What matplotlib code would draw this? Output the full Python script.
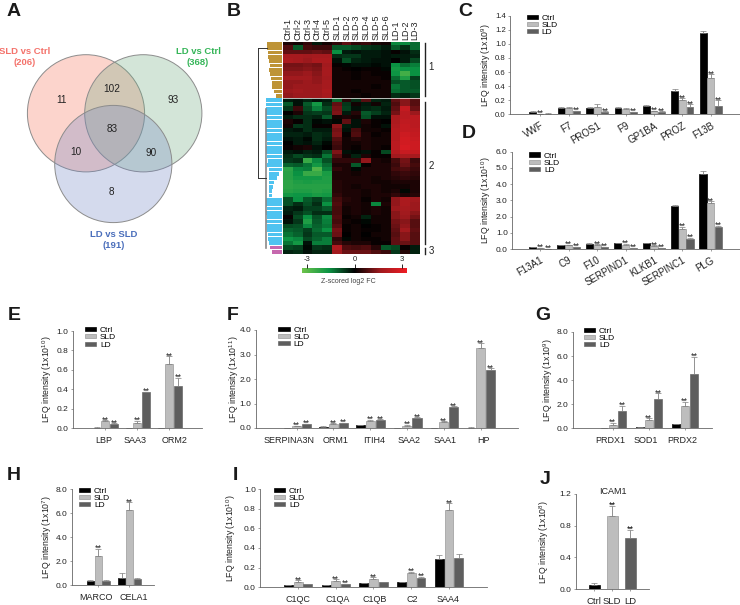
import numpy as np
from matplotlib import pyplot as plt
from matplotlib.colors import LinearSegmentedColormap, Normalize
from matplotlib.cm import ScalarMappable
from matplotlib.patches import Circle
from matplotlib.transforms import ScaledTranslation

plt.rcParams['font.family'] = ['Liberation Sans', 'DejaVu Sans']
plt.rcParams['mathtext.default'] = 'regular'
plt.rcParams['axes.linewidth'] = 0.6

W, H = 740, 605
fig = plt.figure(figsize=(W / 100, H / 100), dpi=100)

# venn
venn_names = ['SLD vs Ctrl\n(206)', 'LD vs Ctrl\n(368)', 'LD vs SLD\n(191)']
venn_counts = ['11', '102', '93', '83', '10', '90', '8']

# heatmap
heat_cols = ['Ctrl-1', 'Ctrl-2', 'Ctrl-3', 'Ctrl-4', 'Ctrl-5', 'SLD-1', 'SLD-2', 'SLD-3',
             'SLD-4', 'SLD-5', 'SLD-6', 'LD-1', 'LD-2', 'LD-3']
heat = [
    [.3, .2, .5, -.3, .2, .5, 1.0, .5, .6, .3, .2, -1.5, -1.5, -1.2],
    [.8, -1.0, .7, .6, .6, -1.0, -1.0, -.8, -.6, -.5, -.3, -1.0, -.5, -1.2],
    [1.0, 1.0, 1.0, 1.1, 1.0, -1.6, -.3, -.2, -.3, -.3, -.2, .1, -.2, -.5],
    [1.8, 1.8, 1.7, 1.8, 1.8, -.5, -.6, -.6, -.3, -.3, -.2, -.3, -.3, -.4],
    [1.9, 1.8, 1.6, 1.9, 1.9, -.2, -.9, -.4, -.3, -.2, -.2, 0, -.3, -.8],
    [1.2, 1.2, 1.3, 1.2, 1.7, .1, -.1, -.2, -.2, -.1, -.2, -1.6, -1.2, -1.4],
    [1.3, 1.3, 1.4, 1.3, 1.8, .2, .1, 0, .1, .1, -.1, -1.8, -1.6, -1.6],
    [1.5, 1.5, 1.6, 1.4, 1.8, .2, .2, .1, .2, .1, .1, -1.7, -2.6, -1.6],
    [1.7, 1.7, 1.7, 1.5, 1.7, .2, .2, .1, .2, .2, .1, -1.2, -2.0, -.7],
    [1.5, 1.5, 1.6, 1.5, 1.8, .2, .2, .2, .2, .2, .2, -.9, -1.0, -.9],
    [1.5, 1.6, 1.6, 1.6, 1.8, .2, .2, .2, .2, .1, .2, -1.3, -1.0, -.9],
    [1.6, 1.7, 1.6, 1.6, 1.9, .2, .2, .1, .2, .2, .2, -1.2, -1.0, -1.0],
    [1.5, 1.6, 1.6, 1.6, 1.8, .2, .2, .2, .1, .2, .2, -.5, -.4, -.6],
    [-.3, -.2, -.4, -.2, -.3, -1.2, .4, -.5, .9, -.4, -.3, 1.0, 1.4, .9],
    [-1.0, -.2, -1.0, -1.8, -.5, 1.0, -.6, .2, -.3, .2, -.4, .8, 1.4, .9],
    [-.6, .6, -.8, -1.4, -.8, 1.2, -.7, -.2, -.4, -.5, -.3, 1.0, 2.4, 1.1],
    [0, .3, -.6, -.7, -.6, 1.3, -.3, .4, -1.0, -.7, -.4, 1.2, 2.2, 1.6],
    [-.3, -.5, -.5, -.4, -1.0, .2, .3, .2, -.9, -.2, -.2, 1.9, 2.2, 2.2],
    [.3, .1, -.5, -.1, -.2, -.1, 1.0, -.2, .3, .1, 0, 1.9, 2.3, 2.2],
    [.2, -.6, -.5, .1, .1, 1.4, -.3, -.2, .2, .1, -.2, 2.0, 2.4, 2.2],
    [-.3, -.2, -.5, -.3, -.3, 1.2, -.2, .7, .2, .2, .1, 2.1, 2.4, 2.3],
    [-.4, -.4, -.3, -.5, -.4, 1.3, .1, .8, .3, .1, .2, 2.1, 2.6, 2.4],
    [-.2, -.3, -.1, -.5, -.3, .9, .2, .4, .3, .2, .2, 2.1, 2.7, 2.5],
    [0, -.3, -.2, -.4, -.1, .7, .2, .2, .3, .2, .2, 2.2, 2.7, 2.6],
    [.1, .2, .3, -.2, 0, .6, .2, .1, .3, .2, .1, 2.2, 2.8, 2.6],
    [-.3, -.2, -.4, -.3, -.8, 1.3, -.2, -.1, -.2, .1, -.8, 2.1, 2.5, 2.4],
    [-.5, -.8, -.6, -.5, -1.3, .9, .2, -.4, .3, .1, .1, 1.7, 1.9, 1.8],
    [-.6, -.5, -2.4, -1.5, -.9, .5, .5, .5, 1.5, .3, .2, .7, 1.2, .6],
    [-1.1, -1.0, -1.3, -1.8, -1.2, .3, .3, -1.0, .1, .3, .3, .6, 1.1, .7],
    [-2.2, -1.5, -1.4, -2.8, -1.4, .5, .3, -.1, .3, .3, .3, .7, .8, .6],
    [-2.1, -1.6, -2.4, -2.4, -1.9, .3, .3, .2, .3, .3, .3, .5, .6, .5],
    [-2.1, -1.8, -1.8, -1.8, -2.0, .3, .3, .3, .3, .2, .3, .4, .5, .4],
    [-2.2, -2.0, -1.9, -2.0, -2.0, .4, .3, .3, .3, .2, .2, .3, .3, .3],
    [-2.2, -2.1, -2.1, -2.1, -2.1, .4, .3, .2, .3, .3, .2, .2, .2, .3],
    [-2.1, -2.0, -2.0, -2.1, -2.0, .4, .3, .3, .2, .3, .2, .3, -.1, .3],
    [-1.8, -1.7, -1.7, -1.9, -1.8, .5, .3, .3, .2, .3, .3, .5, .3, .4],
    [-.9, -1.6, -1.0, -.7, -1.2, .7, .4, .3, .1, .3, .2, 1.5, 1.9, 1.7],
    [-.9, -.5, -.9, -.5, -1.6, .8, .3, .3, .2, -1.5, .3, 1.5, 1.9, 1.6],
    [-.4, -.3, -.7, -.7, -1.0, .7, .2, .3, .2, .3, .2, 1.6, 1.8, 1.6],
    [-.3, -.6, -.9, -.5, -.5, .7, .2, .3, .2, .3, .2, 1.4, 1.7, 1.4],
    [.1, -.8, -1.6, -.9, -1.5, .8, .1, .2, -.4, .2, .2, 1.4, 1.6, 1.2],
    [-.2, -.6, -2.0, -1.0, -1.4, .7, .2, .1, -.1, .2, .2, 1.2, 1.4, .9],
    [-.8, -.9, -1.5, -1.1, -1.3, .9, .1, .2, 0, .1, .2, 1.1, 1.5, .9],
    [-1.1, -1.0, -.7, -1.2, -1.6, 1.2, .1, .2, .1, .1, .2, 1.0, 1.7, 1.0],
    [-1.3, -1.1, -.6, -1.0, -1.0, 1.1, 0, .2, 0, .2, .2, .9, 1.4, .9],
    [-1.7, -1.5, -.8, -1.1, -1.4, .5, -.1, .2, .1, .1, .2, 1.0, 1.4, .9],
    [-1.3, -1.8, -.2, -1.4, -1.4, .7, .4, .3, .3, .1, .1, 1.0, 1.1, .9],
    [-.8, -.7, -.1, -.6, -.5, 2.0, .8, .7, .8, .4, -1.0, -.8, .1, -.3],
    [-.4, -.5, -.2, -.4, -.4, 1.7, 1.1, 1.1, 1.1, .8, .6, -.6, .4, -.4],
]
# dendrogram branch heights per heatmap row
dend_height = [.6, .6, .56, .54, .52, .48, .5, .46, .44, .4, .38, .32, .22,
               .63, .62, .64, .62, .63, .64, .62, .61, .63, .62, .6, .63, .62, .6,
               .56, .58, .52, .52, .52, .5, .5, .5, .52, .62, .63, .6, .62, .6, .61, .58, .6, .56, .55, .5,
               .48, .4]
dend_gap = [0] * 30 + [.1, .2, .3, .35, .38, .4] + [0] * 13
dend_colors = ['#BE9437'] * 13 + ['#4FC3F0'] * 34 + ['#C668AE'] * 2

# bar panels
c_genes = ['VWF', 'F7', 'PROS1', 'F9', 'GP1BA', 'PROZ', 'F13B']
c_ctrl = [.03, .09, .09, .09, .12, .33, 1.15]
c_sld = [.003, .09, .10, .08, .04, .20, .51]
c_ld = [.01, .04, .03, .03, .03, .10, .12]
c_err = [[.02, .015, .015, .015, .015, .025, .03], [.002, .01, .04, .01, .01, .025, .06], [.005, .01, .01, .005, .01, .04, .08]]
c_star = [[0, 0, 0, 0, 0, 0, 0], [1, 0, 0, 0, 1, 1, 1], [0, 1, 1, 1, 1, 1, 1]]

d_genes = ['F13A1', 'C9', 'F10', 'SERPIND1', 'KLKB1', 'SERPINC1', 'PLG']
d_ctrl = [.12, .22, .33, .36, .36, 2.63, 4.65]
d_sld = [.04, .24, .24, .27, .17, 1.25, 2.83]
d_ld = [.01, .12, .12, .07, .07, .6, 1.33]
d_err = [[.01, .02, .02, .02, .02, .06, .13], [.02, .03, .04, .04, .06, .12, .12], [.005, .02, .03, .02, .01, .08, .1]]
d_star = [[0] * 7, [1] * 7, [1] * 7]

e_genes = ['LBP', 'SAA3', 'ORM2']
e_ctrl = [.008, .003, .003]
e_sld = [.075, .055, .66]
e_ld = [.045, .37, .435]
e_err = [[.001, .001, .001], [.008, .025, .08], [.005, .005, .085]]
e_star = [[0] * 3, [1] * 3, [1] * 3]

f_genes = ['SERPINA3N', 'ORM1', 'ITIH4', 'SAA2', 'SAA1', 'HP']
f_ctrl = [.01, .06, .13, .005, .005, .02]
f_sld = [.08, .18, .30, .10, .24, 3.25]
f_ld = [.16, .20, .32, .41, .86, 2.36]
f_err = [[.002, .005, .005, .002, .002, .005], [.02, .02, .03, .03, .03, .2], [.02, .02, .04, .03, .03, .08]]
f_star = [[0] * 6, [1] * 6, [1] * 6]

g_genes = ['PRDX1', 'SOD1', 'PRDX2']
g_ctrl = [.04, .08, .37]
g_sld = [.25, .65, 1.85]
g_ld = [1.45, 2.47, 4.47]
g_err = [[.01, .01, .02], [.2, .2, .35], [.4, .45, 1.45]]
g_star = [[0] * 3, [1] * 3, [1] * 3]

h_genes = ['MARCO', 'CELA1']
h_ctrl = [.3, .6]
h_sld = [2.45, 6.25]
h_ld = [.3, .5]
h_err = [[.1, .4], [.6, .65], [.1, .1]]
h_star = [[0, 0], [1, 1], [0, 0]]

i_genes = ['C1QC', 'C1QA', 'C1QB', 'C2', 'SAA4']
i_ctrl = [.02, .02, .04, .05, .285]
i_sld = [.055, .06, .08, .145, .785]
i_ld = [.03, .03, .05, .09, .30]
i_err = [[.005, .003, .005, .003, .04], [.015, .02, .02, .015, .07], [.003, .005, .007, .015, .035]]
i_star = [[0] * 5, [1] * 5, [0, 1, 0, 1, 0]]

j_groups = ['Ctrl', 'SLD', 'LD']
j_vals = [.06, .92, .64]
j_err = [.025, .13, .11]
j_star = [0, 1, 1]

bar_colors = ['#000000', '#BDBDBD', '#5E5E5E']
bar_edges = ['#000000', '#9A9A9A', '#6A6A6A']
group_names = ['Ctrl', 'SLD', 'LD']


def px_axes(left, top, right, bottom):
    return fig.add_axes([left / W, 1 - bottom / H, (right - left) / W, (bottom - top) / H])


def shift_labels(ax, shifts):
    for lab, dx in zip(ax.get_xticklabels(), shifts):
        lab.set_transform(lab.get_transform() + ScaledTranslation(dx / 100, 0, fig.dpi_scale_trans))


def bar_panel(rect, ymax, yticks, power, genes, series, errs, stars, first, step, bar_w, gap,
              ylab_x, legend_at=None, rotate=False, label_dx=None, tick_fs=6):
    left, top, right, bottom = rect
    ax = px_axes(left, top, right, bottom)
    ax.set_xlim(left, right)
    ax.set_ylim(0, ymax)
    for s in range(3):
        xs = [first + i * step + s * gap for i in range(len(genes))]
        ax.bar(xs, series[s], width=bar_w, color=bar_colors[s], edgecolor=bar_edges[s], linewidth=0.5,
               align='edge', label=group_names[s])
        mids = [x + bar_w / 2 for x in xs]
        ax.errorbar(mids, series[s], yerr=[[0] * len(genes), errs[s]], fmt='none', ecolor='#808080',
                    elinewidth=0.6, capsize=2, capthick=0.5)
        for m, v, e, st in zip(mids, series[s], errs[s], stars[s]):
            if st:
                ax.annotate('**', (m, v + e), xytext=(0, -3), textcoords='offset points', ha='center',
                            va='bottom', fontsize=6.5, color='#222222')
    ax.set_xticks([first + i * step + gap + bar_w / 2 for i in range(len(genes))])
    if rotate:
        ax.set_xticklabels(genes, rotation=30, ha='right', rotation_mode='anchor', fontsize=7)
    else:
        ax.set_xticklabels(genes, fontsize=6.5)
    ax.set_yticks(yticks)
    ax.set_yticklabels([f'{t:.1f}' for t in yticks], fontsize=tick_fs)
    ax.tick_params(length=1.5, width=0.4, pad=1.5, color='#555555', labelcolor='#222222')
    ax.tick_params(axis='x', pad=4 if not rotate else 3)
    ax.spines[['top', 'right']].set_visible(False)
    ax.spines[['left', 'bottom']].set_color('#666666')
    ax.set_ylabel(f'LFQ intensity (1x10$^{{{power}}}$)', fontsize=6.3, color='#222222')
    ax.yaxis.set_label_coords((ylab_x + 6 - left) / (right - left), 0.5)
    if label_dx is not None:
        shift_labels(ax, label_dx)
    if legend_at is not None:
        ax.legend(loc='upper left', bbox_to_anchor=(legend_at[0] / W, 1 - legend_at[1] / H),
                  bbox_transform=fig.transFigure, frameon=False, fontsize=6, borderpad=0, borderaxespad=0,
                  handlelength=1.35, handleheight=0.4, handletextpad=0.45, labelspacing=0.02)
    return ax


# overlay in pixel units for venn, letters, brackets
ov = fig.add_axes([0, 0, 1, 1])
ov.set_xlim(0, W)
ov.set_ylim(H, 0)
ov.axis('off')

for cx, cy, col in [(86, 113.3, '#F77359'), (143.3, 113.3, '#6EAB80'), (113.3, 164, '#7387C4')]:
    ov.add_patch(Circle((cx, cy), 58.6, facecolor=col, alpha=0.3, edgecolor='none'))
    ov.add_patch(Circle((cx, cy), 58.6, facecolor='none', edgecolor='#8C8C8C', linewidth=0.7))
for (x, y), name, col in zip([(25, 57), (198, 57), (114, 240)], venn_names, ['#F4726B', '#35B558', '#4A6EBB']):
    ov.text(x, y, name, ha='center', va='center', fontsize=6.8, fontweight='bold', color=col, linespacing=1.15)
for (x, y), c in zip([(62, 100), (112, 88.5), (173.5, 100), (112, 129.5), (76, 152), (151, 152.5), (111.5, 192)], venn_counts):
    ov.text(x, y, c, ha='center', va='center', fontsize=7.2, color='#222222')

for ch, x, y in [('A', 7, 12), ('B', 227, 11), ('C', 458, 12), ('D', 462, 133), ('E', 8, 315), ('F', 227, 315),
                 ('G', 535, 315), ('H', 7, 476), ('I', 233, 475), ('J', 540, 480)]:
    ov.text(x, y, ch, fontsize=14, fontweight='bold', color='#1A1A1A', ha='left', va='center')

# heatmap
cmap = LinearSegmentedColormap.from_list('gkr', ['#6CC24A', '#0B9444', '#000000', '#A01A1E', '#ED1C24'])
norm = Normalize(-3.3, 3.3)
hx = px_axes(283.3, 41.7, 420, 254)
hx.imshow(np.array(heat), cmap=cmap, norm=norm, aspect='auto', interpolation='nearest')
hx.axhline(12.5, color='white', lw=0.5)
hx.xaxis.tick_top()
hx.set_xticks(range(len(heat_cols)))
hx.set_xticklabels(heat_cols, rotation=90, fontsize=6.5, color='#222222')
hx.set_yticks([])
hx.tick_params(length=0, pad=1.5)
for s in hx.spines.values():
    s.set_visible(False)

# dendrogram
dx = px_axes(256.7, 41.7, 281.5, 254)
dx.set_xlim(1, 0)
dx.set_ylim(len(dend_height) - .5, -.5)
dx.axis('off')
rows = np.arange(len(dend_height))
dx.barh(rows, np.array(dend_height) - np.array(dend_gap), left=dend_gap, height=0.9, color=dend_colors, linewidth=0)
dx.plot([.64, .64], [15, 47], color='#8A8A8A', lw=1.2)
dx.plot([.93, .93], [1, 31], color='#333333', lw=0.7)
dx.plot([.93, .6], [1, 1], color='#333333', lw=0.7)
dx.plot([.93, .64], [31, 31], color='#333333', lw=0.7)

# cluster brackets
for y0, y1, lab, ly in [(42.5, 95.5, '1', 67.5), (101.5, 243.5, '2', 166), (247.5, 254, '3', 250.5)]:
    ov.plot([425, 425], [y0, y1], color='#222222', lw=1)
    ov.text(431, ly, lab, fontsize=7, color='#222222', ha='center', va='center')

# colour key
cx = px_axes(302.3, 268.3, 406.7, 273.3)
cb = fig.colorbar(ScalarMappable(norm=norm, cmap=cmap), cax=cx, orientation='horizontal')
cb.set_ticks([-3, 0, 3])
cb.set_ticklabels(['-3', '0', '3'])
cb.ax.xaxis.set_ticks_position('top')
cb.ax.tick_params(length=3, width=0.6, labelsize=5.5, pad=1, labelcolor='#222222')
cb.outline.set_visible(False)
ov.text(348, 281.7, 'Z-scored log2 FC', fontsize=5, color='#444444', ha='center', va='center')

bar_panel((510, 15.7, 740, 114.3), 1.4, [0, .2, .4, .6, .8, 1.0, 1.2, 1.4], 9, c_genes,
          [c_ctrl, c_sld, c_ld], c_err, c_star, 529.5, 28.4, 6.8, 7.6, 487, (526.7, 14.5), True, tick_fs=5.6)
bar_panel((512, 151.7, 740, 249), 6.0, [0, 1, 2, 3, 4, 5, 6], 10, d_genes,
          [d_ctrl, d_sld, d_ld], d_err, d_star, 529, 28.4, 7.2, 7.7, 487, (529, 152.5), True)
bar_panel((72.7, 331, 202, 428.3), 1.0, [0, .2, .4, .6, .8, 1.0], 10, e_genes,
          [e_ctrl, e_sld, e_ld], e_err, e_star, 92.7, 32, 8, 8.7, 47.5, (85, 327), label_dx=[-2, -2, 5])
bar_panel((255.7, 330, 518, 428), 4.0, [0, 1, 2, 3, 4], 11, f_genes,
          [f_ctrl, f_sld, f_ld], f_err, f_star, 282, 36.8, 9.2, 10, 235, (278.3, 326.5), label_dx=[-7.5, 1.7, 4, 2, 1, 3])
bar_panel((573, 332, 712, 428.3), 8.0, [0, 2, 4, 6, 8], 9, g_genes,
          [g_ctrl, g_sld, g_ld], g_err, g_star, 599.5, 36, 8.3, 9.1, 549, (584, 327.5), label_dx=[-3, -3, -2])
bar_panel((71.7, 489.3, 154, 585), 8.0, [0, 2, 4, 6, 8], 7, h_genes,
          [h_ctrl, h_sld, h_ld], h_err, h_star, 86.7, 31.3, 7.2, 7.8, 47.5, (79, 487.5), label_dx=[-2, 4.5])
bar_panel((260, 489, 486.7, 587.3), 1.0, [0, .2, .4, .6, .8, 1.0], 10, i_genes,
          [i_ctrl, i_sld, i_ld], i_err, i_star, 284, 37.7, 8.8, 9.7, 232, (274, 487.5), label_dx=[0, 2, 1.5, 1, -1])

# ICAM1 panel has one bar per group
jx = px_axes(575.7, 493.7, 649, 589.3)
jx.set_xlim(575.7, 649)
jx.set_ylim(0, 1.2)
j_pos = [594, 612, 630]
jx.bar(j_pos, j_vals, width=11, color=bar_colors, edgecolor=bar_edges, linewidth=0.5)
jx.errorbar(j_pos, j_vals, yerr=[[0, 0, 0], j_err], fmt='none', ecolor='#808080', elinewidth=0.6, capsize=2, capthick=0.5)
for x, v, e, st in zip(j_pos, j_vals, j_err, j_star):
    if st:
        jx.annotate('**', (x, v + e), xytext=(0, -3), textcoords='offset points', ha='center', va='bottom', fontsize=6.5)
jx.set_xticks(j_pos)
jx.set_xticklabels(j_groups, fontsize=6.8)
shift_labels(jx, [0, 3, 2])
jx.set_yticks([0, .4, .8, 1.2])
jx.set_yticklabels(['0.0', '0.4', '0.8', '1.2'], fontsize=6)
jx.tick_params(length=1.5, width=0.4, pad=1.5, color='#555555', labelcolor='#222222')
jx.tick_params(axis='x', pad=4)
jx.spines[['top', 'right']].set_visible(False)
jx.spines[['left', 'bottom']].set_color('#666666')
jx.set_ylabel('LFQ intensity (1x10$^{8}$)', fontsize=6.3, color='#222222')
jx.yaxis.set_label_coords((551 - 575.7) / 73.3, 0.5)
jx.text(613, 1.225, 'ICAM1', fontsize=6.5, ha='center', va='center', color='#222222')

fig.savefig('out.png', dpi=100)
